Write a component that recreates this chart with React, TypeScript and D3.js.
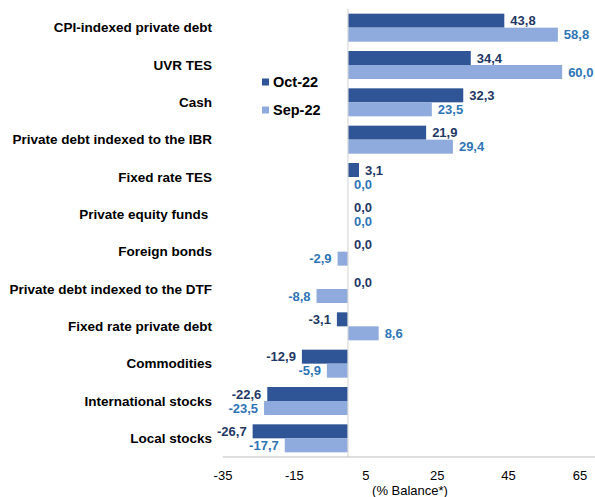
import React from 'react';
import * as d3 from 'd3';

const categories = [
  'CPI-indexed private debt',
  'UVR TES',
  'Cash',
  'Private debt indexed to the IBR',
  'Fixed rate TES',
  'Private equity funds ',
  'Foreign bonds',
  'Private debt indexed to the DTF',
  'Fixed rate private debt',
  'Commodities',
  'International stocks',
  'Local stocks',
];
const oct22 = [43.8, 34.4, 32.3, 21.9, 3.1, 0.0, 0.0, 0.0, -3.1, -12.9, -22.6, -26.7];
const sep22 = [58.8, 60.0, 23.5, 29.4, 0.0, 0.0, -2.9, -8.8, 8.6, -5.9, -23.5, -17.7];
const xTicks = [-35, -15, 5, 25, 45, 65];

const series = [
  { key: 'Oct-22', values: oct22, fill: '#2f5597', text: '#1f3864' },
  { key: 'Sep-22', values: sep22, fill: '#8faadc', text: '#2e75b6' },
];

const W = 595;
const H = 497;
const font = 'Arial, "Liberation Sans", sans-serif';

const App = () => {
  const x = d3.scaleLinear().domain([-35, 65]).range([223, 580]);
  const y = d3.scaleBand<string>()
    .domain(categories)
    .range([9, 457])
    .paddingInner(0.25)
    .paddingOuter(0.125);
  const sub = d3.scaleBand<string>()
    .domain(series.map(s => s.key))
    .range([0, y.bandwidth()]);
  const fmt = (v: number) => v.toFixed(1).replace('.', ',');
  const axisY = 457;

  return (
    <svg width={W} height={H} style={{ position: 'absolute', left: 0, top: 0, fontFamily: font }}>
      <rect width={W} height={H} fill="#fff" />

      {/* bars */}
      {series.map(s => (
        <g key={s.key}>
          {s.values.map((v, i) => (
            <rect
              key={i}
              x={Math.min(x(0), x(v))}
              y={(y(categories[i]) ?? 0) + (sub(s.key) ?? 0)}
              width={Math.abs(x(v) - x(0))}
              height={sub.bandwidth()}
              fill={s.fill}
            />
          ))}
        </g>
      ))}

      {/* zero line */}
      <line x1={x(0)} x2={x(0)} y1={9} y2={axisY} stroke="#d9d9d9" strokeWidth={1.2} />

      {/* value labels */}
      {series.map(s => (
        <g key={s.key + '-lbl'} fontSize={13} fontWeight="bold" fill={s.text}>
          {s.values.map((v, i) => (
            <text
              key={i}
              x={v >= 0 ? x(v) + 6 : x(v) - 6}
              y={(y(categories[i]) ?? 0) + (sub(s.key) ?? 0) + sub.bandwidth() / 2}
              dy="0.35em"
              textAnchor={v >= 0 ? 'start' : 'end'}
            >
              {fmt(v)}
            </text>
          ))}
        </g>
      ))}

      {/* category labels */}
      <g fontSize={13.5} fontWeight="bold" fill="#000">
        {categories.map(c => (
          <text
            key={c}
            x={212}
            y={(y(c) ?? 0) + y.bandwidth() / 2}
            dy="0.35em"
            textAnchor="end"
            style={{ whiteSpace: 'pre' }}
          >
            {c}
          </text>
        ))}
      </g>

      {/* x axis */}
      <line x1={x(-35)} x2={W} y1={axisY} y2={axisY} stroke="#bfbfbf" strokeWidth={1} />
      <g fontSize={13} fill="#000">
        {xTicks.map(t => (
          <text key={t} x={x(t)} y={475} dy="0.35em" textAnchor="middle">
            {t}
          </text>
        ))}
        <text x={410} y={490} dy="0.35em" textAnchor="middle">(% Balance*)</text>
      </g>

      {/* legend */}
      {series.map((s, i) => (
        <g key={s.key + '-leg'} transform={`translate(262,${82 + i * 28})`}>
          <rect x={0} y={-3.5} width={7} height={7} fill={s.fill} />
          <text x={11} y={0} dy="0.35em" fontSize={14.5} fontWeight="bold" fill="#000">
            {s.key}
          </text>
        </g>
      ))}
    </svg>
  );
};

export default App;
